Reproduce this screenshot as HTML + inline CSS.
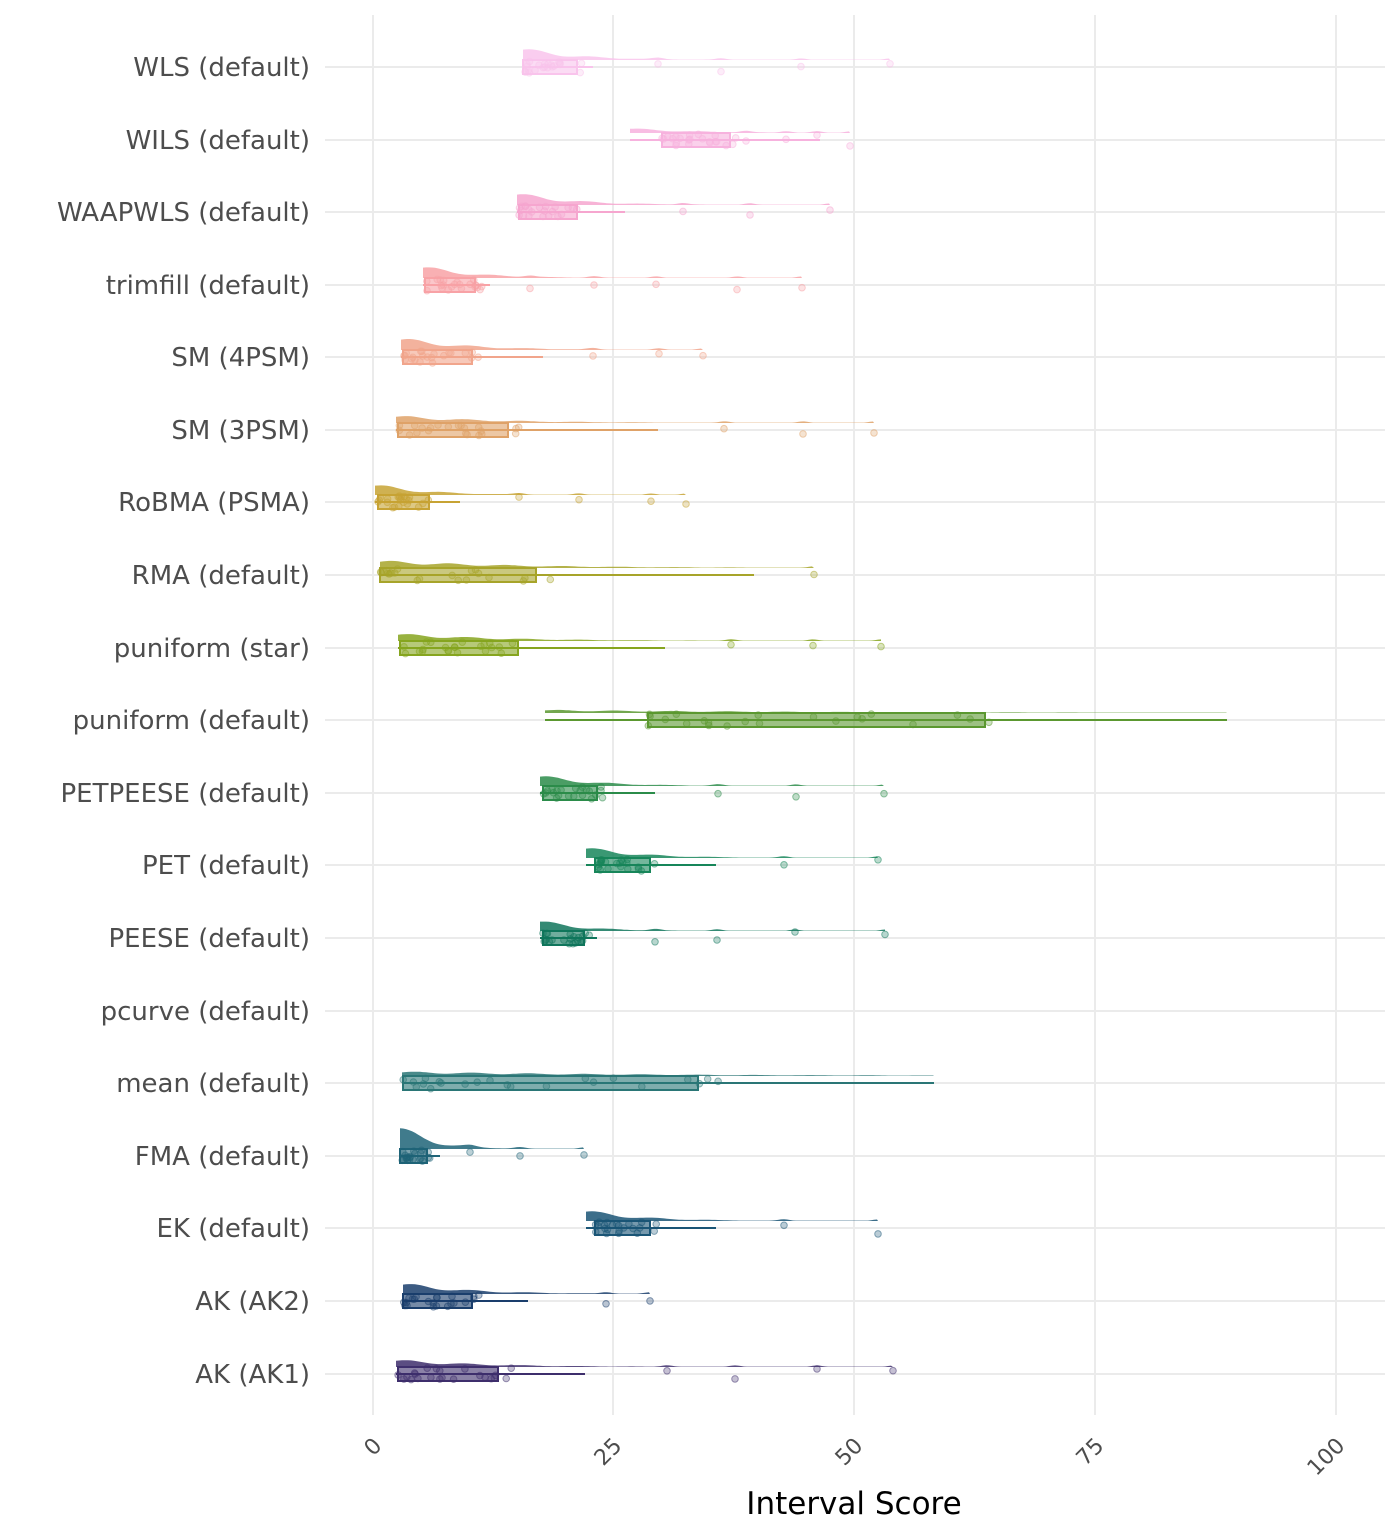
<!DOCTYPE html>
<html><head><meta charset="utf-8"><style>
body{margin:0;background:#fff}
svg{display:block;font-family:"DejaVu Sans","Liberation Sans",sans-serif}
</style></head><body>
<svg id="s" width="1400" height="1536" xmlns="http://www.w3.org/2000/svg"></svg>
<script>
const s=document.getElementById('s');let h='';
[373,613,854,1095,1336].forEach(x=>{h+=`<line x1="${x}" y1="15" x2="${x}" y2="1415" stroke="#ebebeb" stroke-width="2"/>`});
const rows=[
["WLS (default)",67,"#f9c4ec",523,523,577,593,[658,721,801,890],1.0],
["WILS (default)",140,"#f7b2de",630,662,730,820,[746,786,817,850],0.4],
["WAAPWLS (default)",212,"#f6a6cf",517,519,577,625,[683,750,830],1.0],
["trimfill (default)",285,"#f8a2a6",423,425,475,490,[530,594,656,737,802],1.0],
["SM (4PSM)",357,"#f1a58c",401,403,472,543,[593,659,703],1.0],
["SM (3PSM)",430,"#dfa268",396,398,508,658,[724,803,874],0.6],
["RoBMA (PSMA)",502,"#c7a334",375,378,429,460,[519,579,651,686],0.9],
["RMA (default)",575,"#a7a42a",380,380,536,754,[814],0.6],
["puniform (star)",648,"#86a51f",398,400,518,665,[731,813,881],0.6],
["puniform (default)",720,"#5b9830",545,648,985,1227,[],0.25],
["PETPEESE (default)",793,"#2b8c4a",540,543,597,655,[718,796,884],0.9],
["PET (default)",865,"#17865a",586,595,650,716,[784,878],0.9],
["PEESE (default)",938,"#10765c",540,543,584,597,[655,717,795,885],0.9],
["pcurve (default)",1011,null],
["mean (default)",1083,"#2a7676",402,403,698,934,[],0.35],
["FMA (default)",1156,"#1f6478",400,400,427,440,[470,520,584],2.2],
["EK (default)",1228,"#1a5576",586,595,650,716,[784,878],0.9],
["AK (AK2)",1301,"#1a3e6c",403,403,472,528,[606,650],0.9],
["AK (AK1)",1374,"#3e2e6c",396,398,498,585,[667,735,817,893],0.6]];
let seed=7;const r=()=>{seed=(seed*9301+49297)%233280;return seed/233280};
rows.forEach(([lab,y,c,x0,q1,q3,we,out,pk])=>{
 h+=`<line x1="325" y1="${y}" x2="1385" y2="${y}" stroke="#ebebeb" stroke-width="2"/>`;
 h+=`<text x="310" y="${y+9}" text-anchor="end" font-size="26" fill="#4d4d4d">${lab}</text>`;
 if(!c)return;
 const xmax=Math.max(we,...out);
 let d=`M${x0},${y-7}`;const ph=Math.min(26,pk*13);
 for(let x=x0;x<=xmax;x+=3){const t=(x-x0);let v=ph*Math.exp(-t/((q3-q1)*0.8+10))*(0.8+0.2*Math.sin(t/9));
  out.forEach(o=>{v+=1.5*Math.exp(-((x-o)**2)/60)});if(v<0.4)v=0.4;d+=` L${x},${(y-7-v).toFixed(1)}`;}
 d+=` L${xmax},${y-7} Z`;
 h+=`<path d="${d}" fill="${c}" opacity="0.85"/>`;
 h+=`<line x1="${x0}" y1="${y}" x2="${we}" y2="${y}" stroke="${c}" stroke-width="2"/>`;
 h+=`<rect x="${q1}" y="${y-7}" width="${q3-q1}" height="14" fill="${c}" fill-opacity="0.6" stroke="${c}" stroke-width="2"/>`;
 const n=22;for(let i=0;i<n;i++){const px=q1+(q3-q1)*1.15*Math.pow(r(),1.3);const py=y+(r()-0.5)*12;
  h+=`<circle cx="${px.toFixed(1)}" cy="${py.toFixed(1)}" r="3.3" fill="${c}" fill-opacity="0.3" stroke="${c}" stroke-opacity="0.5"/>`;}
 out.forEach(o=>{const py=y+(r()-0.5)*12;h+=`<circle cx="${o}" cy="${py.toFixed(1)}" r="3.3" fill="${c}" fill-opacity="0.3" stroke="${c}" stroke-opacity="0.5"/>`;});
});
[[373,"0"],[613,"25"],[854,"50"],[1095,"75"],[1336,"100"]].forEach(([x,t])=>{
 h+=`<text transform="translate(${x+10},${1447}) rotate(-45)" text-anchor="end" font-size="22" fill="#4d4d4d">${t}</text>`});
h+=`<text x="854" y="1514" text-anchor="middle" font-size="31" fill="#000">Interval Score</text>`;
s.innerHTML=h;
</script>
</body></html>
